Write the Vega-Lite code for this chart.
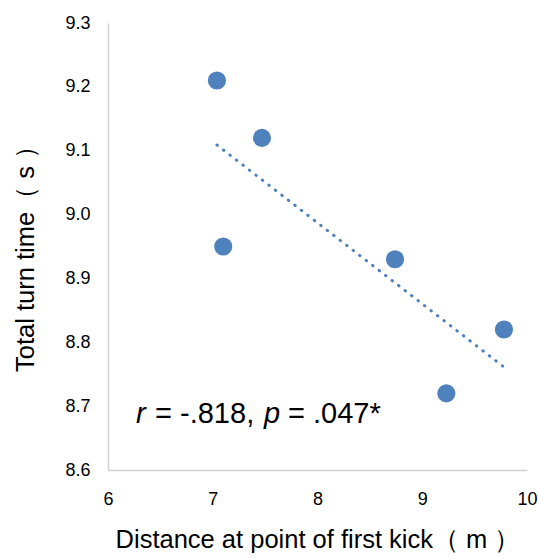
{
  "$schema": "https://vega.github.io/schema/vega-lite/v6.json",
  "width": 419,
  "height": 447,
  "autosize": {"type": "none"},
  "padding": {"left": 108, "top": 23, "right": 12, "bottom": 88},
  "background": "white",
  "config": {
    "view": {"stroke": null},
    "font": "Liberation Sans",
    "axis": {"grid": false, "ticks": false, "domainColor": "#d0d0d0", "domainWidth": 1.5, "labelColor": "#000000", "titleColor": "#000000", "labelFont": "Liberation Sans", "titleFont": "Liberation Sans", "titleFontWeight": "normal", "labelFontSize": 18, "titleFontSize": 25.5}
  },
  "datasets": {
    "pts": [
      {"distance": 7.04, "time": 9.21},
      {"distance": 7.47, "time": 9.12},
      {"distance": 7.10, "time": 8.95},
      {"distance": 8.74, "time": 8.93},
      {"distance": 9.23, "time": 8.72},
      {"distance": 9.78, "time": 8.82}
    ],
    "italic": [
      {"distance": 6.267, "time": 8.674, "label": "r"},
      {"distance": 7.489, "time": 8.674, "label": "p"}
    ],
    "plain": [
      {"distance": 6.449, "time": 8.674, "label": "= -.818,"},
      {"distance": 7.718, "time": 8.674, "label": "= .047*"}
    ]
  },
  "layer": [
    {
      "data": {"name": "pts"},
      "transform": [{"regression": "time", "on": "distance"}],
      "mark": {"type": "line", "color": "#4F81BD", "strokeWidth": 3, "strokeCap": "round", "strokeDash": [0.5, 7.7]},
      "encoding": {
        "x": {"field": "distance", "type": "quantitative", "scale": {"domain": [6, 10], "nice": false, "zero": false},
          "axis": {"values": [6, 7, 8, 9, 10], "format": "d", "title": "Distance at point of first kick（ m ）", "labelPadding": 20, "titlePadding": 19, "labelFlush": false}},
        "y": {"field": "time", "type": "quantitative", "scale": {"domain": [8.6, 9.3], "nice": false, "zero": false},
          "axis": {"values": [8.6, 8.7, 8.8, 8.9, 9.0, 9.1, 9.2, 9.3], "format": ".1f", "title": "Total turn time（ s ）", "labelPadding": 18, "titleX": -70, "titleY": 229, "labelFlush": false}}
      }
    },
    {
      "data": {"name": "pts"},
      "mark": {"type": "circle", "color": "#4F81BD", "opacity": 1, "size": 330},
      "encoding": {
        "x": {"field": "distance", "type": "quantitative"},
        "y": {"field": "time", "type": "quantitative"}
      }
    },
    {
      "data": {"name": "italic"},
      "mark": {"type": "text", "fontStyle": "italic", "fontSize": 29, "align": "left", "baseline": "alphabetic", "color": "#000000"},
      "encoding": {
        "x": {"field": "distance", "type": "quantitative"},
        "y": {"field": "time", "type": "quantitative"},
        "text": {"field": "label"}
      }
    },
    {
      "data": {"name": "plain"},
      "mark": {"type": "text", "fontSize": 29, "align": "left", "baseline": "alphabetic", "color": "#000000"},
      "encoding": {
        "x": {"field": "distance", "type": "quantitative"},
        "y": {"field": "time", "type": "quantitative"},
        "text": {"field": "label"}
      }
    }
  ]
}
